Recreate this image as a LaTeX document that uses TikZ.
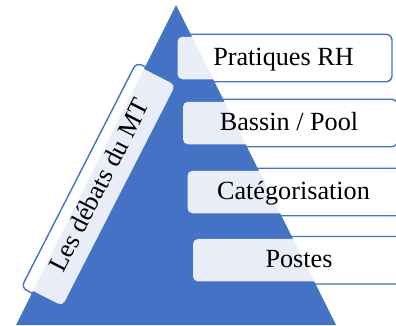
\documentclass[tikz,border=0pt]{standalone}
\usepackage{fontspec}
\setmainfont{Liberation Serif}
\definecolor{pyrblue}{HTML}{4472C4}

\begin{document}
\begin{tikzpicture}[x=1pt,y=1pt,
        frame/.style={draw=pyrblue, line width=1.4pt, rounded corners=6pt, inner sep=0pt,
            minimum width=217pt, minimum height=47.5pt},
        level/.style={fill=white, fill opacity=0.88, text opacity=1, rounded corners=5pt, inner sep=0pt,
            minimum width=212pt, minimum height=42.5pt, text height=18pt, text depth=3pt,
            font=\fontsize{26.2}{30}\selectfont}]
        \useasboundingbox (0,0) rectangle (396,-325);
        \clip (0,0) rectangle (396,-325);
        % pyramid
        \coordinate (apex) at (176,-5);
        \coordinate (baseL) at (16,-325);
        \coordinate (baseR) at (336,-325);
        \fill [pyrblue] (apex) -- (baseR) -- (baseL) -- cycle;
        % levels
        \node [frame] (rhframe) at (283.5,-58) {};
        \node [level] (rh) at (rhframe.center) {Pratiques RH};
        \node [frame] (poolframe) at (289,-123) {};
        \node [level] (pool) at (poolframe.center) {Bassin / Pool};
        \node [frame] (catframe) at (293.5,-192) {};
        \node [level] (cat) at (catframe.center) {Catégorisation};
        \node [frame] (postframe) at (299,-260.2) {};
        \node [level] (post) at (postframe.center) {Postes};
        % side label
        \node [frame, rotate=62.9, minimum width=253pt] (mtframe) at (100,-185.8) {};
        \node [level, rotate=62.9, minimum width=248pt] (mt) at (mtframe.center) {Les débats du MT};
\end{tikzpicture}
\end{document}
